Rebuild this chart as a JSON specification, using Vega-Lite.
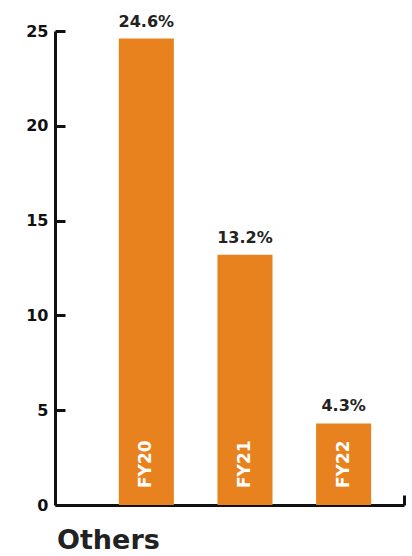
{
  "$schema": "https://vega.github.io/schema/vega-lite/v6.json",
  "width": 349,
  "height": 474,
  "autosize": "none",
  "padding": {"left": 55, "top": 31, "right": 8, "bottom": 51},
  "background": "white",
  "config": {"view": {"stroke": null}, "font": "DejaVu Sans"},
  "title": {"text": "Others", "orient": "bottom", "anchor": "start", "fontSize": 27, "fontWeight": "bold", "color": "#222222", "font": "DejaVu Sans", "offset": 15, "frame": "group", "dx": 2},
  "data": {"values": [
    {"year": "FY20", "value": 24.6, "label": "24.6%"},
    {"year": "FY21", "value": 13.2, "label": "13.2%"},
    {"year": "FY22", "value": 4.3, "label": "4.3%"}
  ]},
  "resolve": {"scale": {"x": "independent"}},
  "layer": [
    {
      "layer": [
        {"mark": {"type": "bar", "color": "#E8821E"}},
        {"mark": {"type": "text", "fontSize": 16, "fontWeight": "bold", "color": "#222222", "baseline": "bottom", "dy": -9},
         "encoding": {"text": {"field": "label"}}},
        {"mark": {"type": "text", "fontSize": 17, "fontWeight": "bold", "color": "white", "angle": 270, "align": "left", "baseline": "middle", "dx": 17},
         "encoding": {"text": {"field": "year"}, "y": {"datum": 0}}}
      ],
      "encoding": {
        "x": {"field": "year", "type": "nominal", "axis": null,
              "scale": {"paddingInner": 0.442, "paddingOuter": 0.49, "align": 0.66}},
        "y": {"field": "value", "type": "quantitative",
              "scale": {"domain": [0, 25], "nice": false},
              "axis": {"values": [0, 5, 10, 15, 20, 25], "grid": false, "title": null,
                       "domainColor": "#111111", "domainWidth": 3, "tickColor": "#111111", "tickWidth": 3, "tickSize": -10,
                       "labelFontSize": 16, "labelFontWeight": "bold", "labelColor": "#111111", "labelPadding": 17, "labelFont": "DejaVu Sans"}}
      }
    },
    {
      "data": {"values": [{"t": 1}]},
      "mark": {"type": "point", "opacity": 0},
      "encoding": {
        "x": {"field": "t", "type": "quantitative", "scale": {"domain": [0, 1], "nice": false},
              "axis": {"values": [1], "labels": false, "title": null, "grid": false, "domainColor": "#111111", "domainWidth": 3,
                       "tickColor": "#111111", "tickWidth": 3, "tickSize": -10}}
      }
    }
  ]
}
